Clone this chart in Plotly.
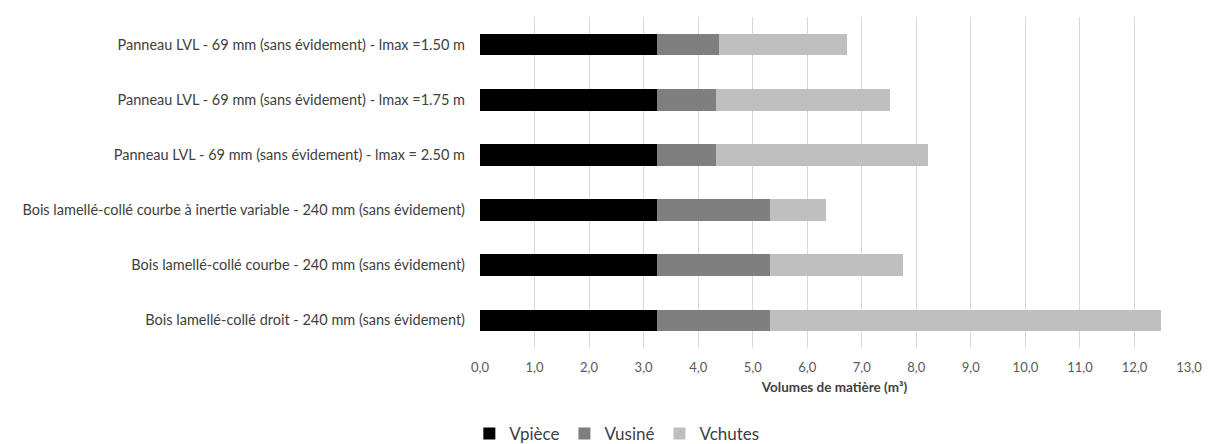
import plotly.graph_objects as go

# Volumes per variant (m³), bottom row first
categories = [
    "Bois lamellé-collé droit - 240 mm (sans évidement)",
    "Bois lamellé-collé courbe - 240 mm (sans évidement)",
    "Bois lamellé-collé courbe à inertie variable - 240 mm (sans évidement)",
    "Panneau LVL - 69 mm (sans évidement) - lmax = 2.50 m",
    "Panneau LVL - 69 mm (sans évidement) - lmax =1.75 m",
    "Panneau LVL - 69 mm (sans évidement) - lmax =1.50 m",
]
v_piece = [3.24, 3.24, 3.24, 3.24, 3.24, 3.24]
v_usine = [2.08, 2.08, 2.08, 1.08, 1.09, 1.14]
v_chutes = [7.17, 2.44, 1.03, 3.90, 3.19, 2.34]

x_ticks = [i for i in range(0, 14)]
x_tick_labels = [f"{i},0" for i in x_ticks]

series = [
    ("Vpièce", v_piece, "#000000"),
    ("Vusiné", v_usine, "#7f7f7f"),
    ("Vchutes", v_chutes, "#bfbfbf"),
]

font_family = "Lato, 'Open Sans', sans-serif"

fig = go.Figure()
for name, values, color in series:
    fig.add_trace(go.Bar(
        name=name,
        y=categories,
        x=values,
        orientation="h",
        marker_color=color,
        marker_line_width=0,
    ))

# page body keeps its default 8px margin, so the figure is made 8px smaller
fig.update_layout(
    barmode="stack",
    bargap=0.61,
    width=1203,
    height=436,
    margin=dict(l=472, r=22, t=9, b=96, autoexpand=False),
    plot_bgcolor="white",
    paper_bgcolor="white",
    font=dict(family=font_family, color="#404040"),
    legend=dict(
        orientation="h",
        x=0.193, xanchor="center",
        y=-0.26, yanchor="middle",
        font=dict(size=17, color="#404040"),
        traceorder="normal",
        itemwidth=30,
    ),
    xaxis=dict(
        range=[0, 13],
        tickvals=x_ticks,
        ticktext=x_tick_labels,
        showgrid=True,
        gridcolor="#d9d9d9",
        gridwidth=1,
        zeroline=False,
        showline=False,
        ticklabelstandoff=10,
        tickfont=dict(size=13, color="#595959"),
        title=dict(text="<b>Volumes de matière (m³)</b>",
                   font=dict(size=13.5, color="#404040"), standoff=8),
    ),
    yaxis=dict(
        showgrid=False,
        zeroline=False,
        showline=False,
        ticks="",
        ticklabelstandoff=14,
        tickfont=dict(size=14.5, color="#404040"),
    ),
)

fig.write_html("out.html")
